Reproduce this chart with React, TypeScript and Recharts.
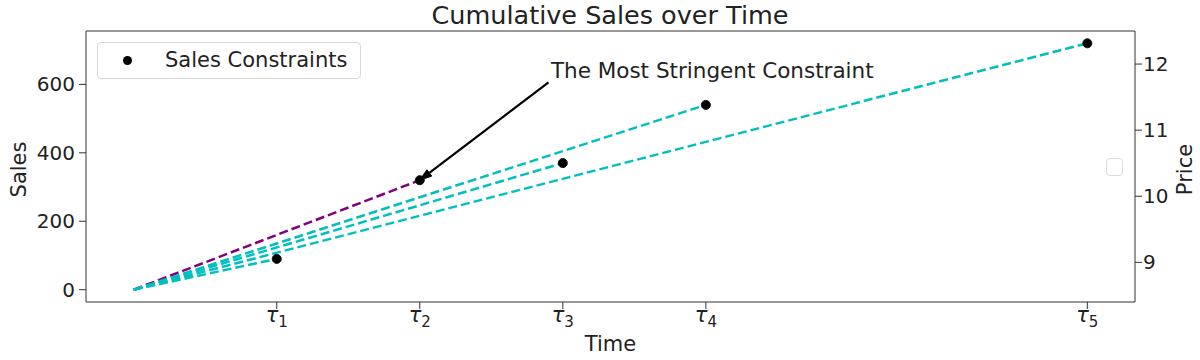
import React from 'react';
import {
  ComposedChart,
  Line,
  Scatter,
  XAxis,
  YAxis,
  ReferenceLine,
  ReferenceDot,
  Legend,
  Customized,
} from 'recharts';

const FONT = '"DejaVu Sans", "Liberation Sans", sans-serif';
const INK = '#222';
const SPINE = '#333';
const CYAN = '#00bfbf';
const PURPLE = '#800080';

// ---- data ----
const TIMES = [3, 6, 9, 12, 20];
const TIME_SUBSCRIPTS = ['1', '2', '3', '4', '5'];
const SALES = [90, 320, 370, 540, 720];
const STRINGENT_INDEX = 1;
const SALES_TICKS = [0, 200, 400, 600];
const PRICE_TICKS = [9, 10, 11, 12];
const TIME_DOMAIN: [number, number] = [-1, 21];
const SALES_DOMAIN: [number, number] = [-36, 756];
const PRICE_DOMAIN: [number, number] = [8.4, 12.5];
const ORIGIN = { t: 0, s: 0 };
const SCATTER_NAME = 'Sales Constraints';
const TITLE = 'Cumulative Sales over Time';
const ANNOTATION_TEXT = 'The Most Stringent Constraint';
const ANNOTATION_TEXT_AT = { t: 8.75, s: 618 };
const ARROW_FROM = { t: 8.7, s: 606 };

const scatterData = TIMES.map((t, i) => ({ t, s: SALES[i] }));
const rayData = TIMES.map((t, i) => [ORIGIN, { t, s: SALES[i] }]);

const TauTick = (props: any) => {
  const { x, y, payload } = props;
  const idx = TIMES.indexOf(payload.value);
  return (
    <text x={x} y={y + 11} textAnchor="middle" fontFamily={FONT} fill={INK}>
      <tspan fontStyle="italic" fontSize={21}>τ</tspan>
      <tspan fontSize={15} dy={5}>{TIME_SUBSCRIPTS[idx]}</tspan>
    </text>
  );
};

const ArrowShape = (props: any) => {
  const { x1, y1, x2, y2 } = props;
  const dx = x2 - x1;
  const dy = y2 - y1;
  const len = Math.sqrt(dx * dx + dy * dy) || 1;
  const ux = dx / len;
  const uy = dy / len;
  const head = 12;
  const half = 4;
  const bx = x2 - ux * head;
  const by = y2 - uy * head;
  const pts = `${x2},${y2} ${bx - uy * half},${by + ux * half} ${bx + uy * half},${by - ux * half}`;
  return (
    <g>
      <line x1={x1} y1={y1} x2={bx} y2={by} stroke="#000" strokeWidth={2.2} />
      <polygon points={pts} fill="#000" stroke="#000" strokeWidth={1} />
    </g>
  );
};

const AnnotationText = (props: any) => (
  <text x={props.cx} y={props.cy} fontFamily={FONT} fontSize={21.5} fill={INK} textAnchor="start">
    {ANNOTATION_TEXT}
  </text>
);

const LeftTitle = (props: any) => {
  const vb = props.viewBox || { x: 0, y: 31, width: 86, height: 271 };
  const x = vb.x + 19;
  const y = vb.y + vb.height / 2 + 3;
  return (
    <text x={x} y={y} transform={`rotate(-90, ${x}, ${y})`} textAnchor="middle" dominantBaseline="central" fontFamily={FONT} fontSize={21} fill={INK}>
      Sales
    </text>
  );
};

const RightTitle = (props: any) => {
  const vb = props.viewBox || { x: 1135, y: 31, width: 65, height: 271 };
  const x = vb.x + 50;
  const y = vb.y + vb.height / 2 + 3;
  return (
    <text x={x} y={y} transform={`rotate(-90, ${x}, ${y})`} textAnchor="middle" dominantBaseline="central" fontFamily={FONT} fontSize={21} fill={INK}>
      Price
    </text>
  );
};

const BottomTitle = (props: any) => {
  const vb = props.viewBox || { x: 86, y: 302, width: 1049, height: 58 };
  return (
    <text x={vb.x + vb.width / 2} y={vb.y + 49} textAnchor="middle" fontFamily={FONT} fontSize={21} fill={INK}>
      Time
    </text>
  );
};

const Title = () => (
  <text x={610} y={24} textAnchor="middle" fontFamily={FONT} fontSize={25.5} fill={INK}>
    {TITLE}
  </text>
);

const LegendContent = () => (
  <div style={{ position: 'relative', width: 1200, height: 360, fontFamily: FONT }}>
    <div
      style={{
        position: 'absolute',
        left: 97,
        top: 42,
        width: 264,
        height: 37,
        boxSizing: 'border-box',
        border: '1px solid #d9d9d9',
        borderRadius: 4,
        background: 'rgba(255,255,255,0.8)',
      }}
    >
      <span
        style={{
          position: 'absolute',
          left: 25,
          top: 13,
          width: 9,
          height: 9,
          borderRadius: '50%',
          background: '#000',
        }}
      />
      <span
        style={{
          position: 'absolute',
          left: 67,
          top: -1,
          fontSize: 21,
          lineHeight: '37px',
          color: INK,
          whiteSpace: 'nowrap',
        }}
      >
        {SCATTER_NAME}
      </span>
    </div>
    <div
      style={{
        position: 'absolute',
        left: 1106,
        top: 158,
        width: 17,
        height: 18,
        boxSizing: 'border-box',
        border: '1px solid #dcdcdc',
        borderRadius: 4,
        background: 'rgba(255,255,255,0.8)',
      }}
    />
  </div>
);

export default function App() {
  return (
    <div style={{ position: 'absolute', left: 0, top: 0, width: 1200, height: 360, background: '#fff' }}>
      <ComposedChart width={1200} height={360} margin={{ top: 31, right: 0, bottom: 0, left: 0 }}>
        <XAxis
          dataKey="t"
          type="number"
          domain={TIME_DOMAIN}
          ticks={TIMES}
          tick={<TauTick />}
          tickSize={7}
          tickMargin={2}
          height={58}
          stroke={SPINE}
          allowDataOverflow
          label={(p: any) => <BottomTitle {...p} />}
        />
        <YAxis
          type="number"
          domain={SALES_DOMAIN}
          ticks={SALES_TICKS}
          width={86}
          tickSize={7}
          tickMargin={4}
          stroke={SPINE}
          tick={{ fill: INK, fontSize: 20, fontFamily: FONT }}
          allowDataOverflow
          label={(p: any) => <LeftTitle {...p} />}
        />
        <YAxis
          yAxisId="price"
          orientation="right"
          type="number"
          domain={PRICE_DOMAIN}
          ticks={PRICE_TICKS}
          width={65}
          tickSize={7}
          tickMargin={1}
          stroke={SPINE}
          tick={{ fill: INK, fontSize: 20, fontFamily: FONT, textAnchor: 'start' }}
          allowDataOverflow
          label={(p: any) => <RightTitle {...p} />}
        />
        <ReferenceLine y={SALES_DOMAIN[1]} stroke={SPINE} strokeWidth={1} ifOverflow="visible" />
        {rayData.map((d, i) => (
          <Line
            key={`ray-${i}`}
            data={d}
            dataKey="s"
            type="linear"
            stroke={i === STRINGENT_INDEX ? PURPLE : CYAN}
            strokeWidth={2.5}
            strokeDasharray="9 4"
            dot={false}
            activeDot={false}
            legendType="none"
            isAnimationActive={false}
          />
        ))}
        <Scatter
          name={SCATTER_NAME}
          data={scatterData}
          dataKey="s"
          fill="#000"
          stroke="#111"
          isAnimationActive={false}
        />
        <ReferenceLine
          segment={[
            { x: ARROW_FROM.t, y: ARROW_FROM.s },
            { x: TIMES[STRINGENT_INDEX], y: SALES[STRINGENT_INDEX] },
          ]}
          shape={ArrowShape}
          ifOverflow="visible"
        />
        <ReferenceDot
          x={ANNOTATION_TEXT_AT.t}
          y={ANNOTATION_TEXT_AT.s}
          r={0}
          shape={AnnotationText}
          ifOverflow="visible"
        />
        <Legend
          layout="vertical"
          align="center"
          verticalAlign="middle"
          wrapperStyle={{ position: 'absolute', left: 0, top: 0, width: 1200, height: 360, pointerEvents: 'none' }}
          content={LegendContent}
        />
        <Customized component={Title} />
      </ComposedChart>
    </div>
  );
}
